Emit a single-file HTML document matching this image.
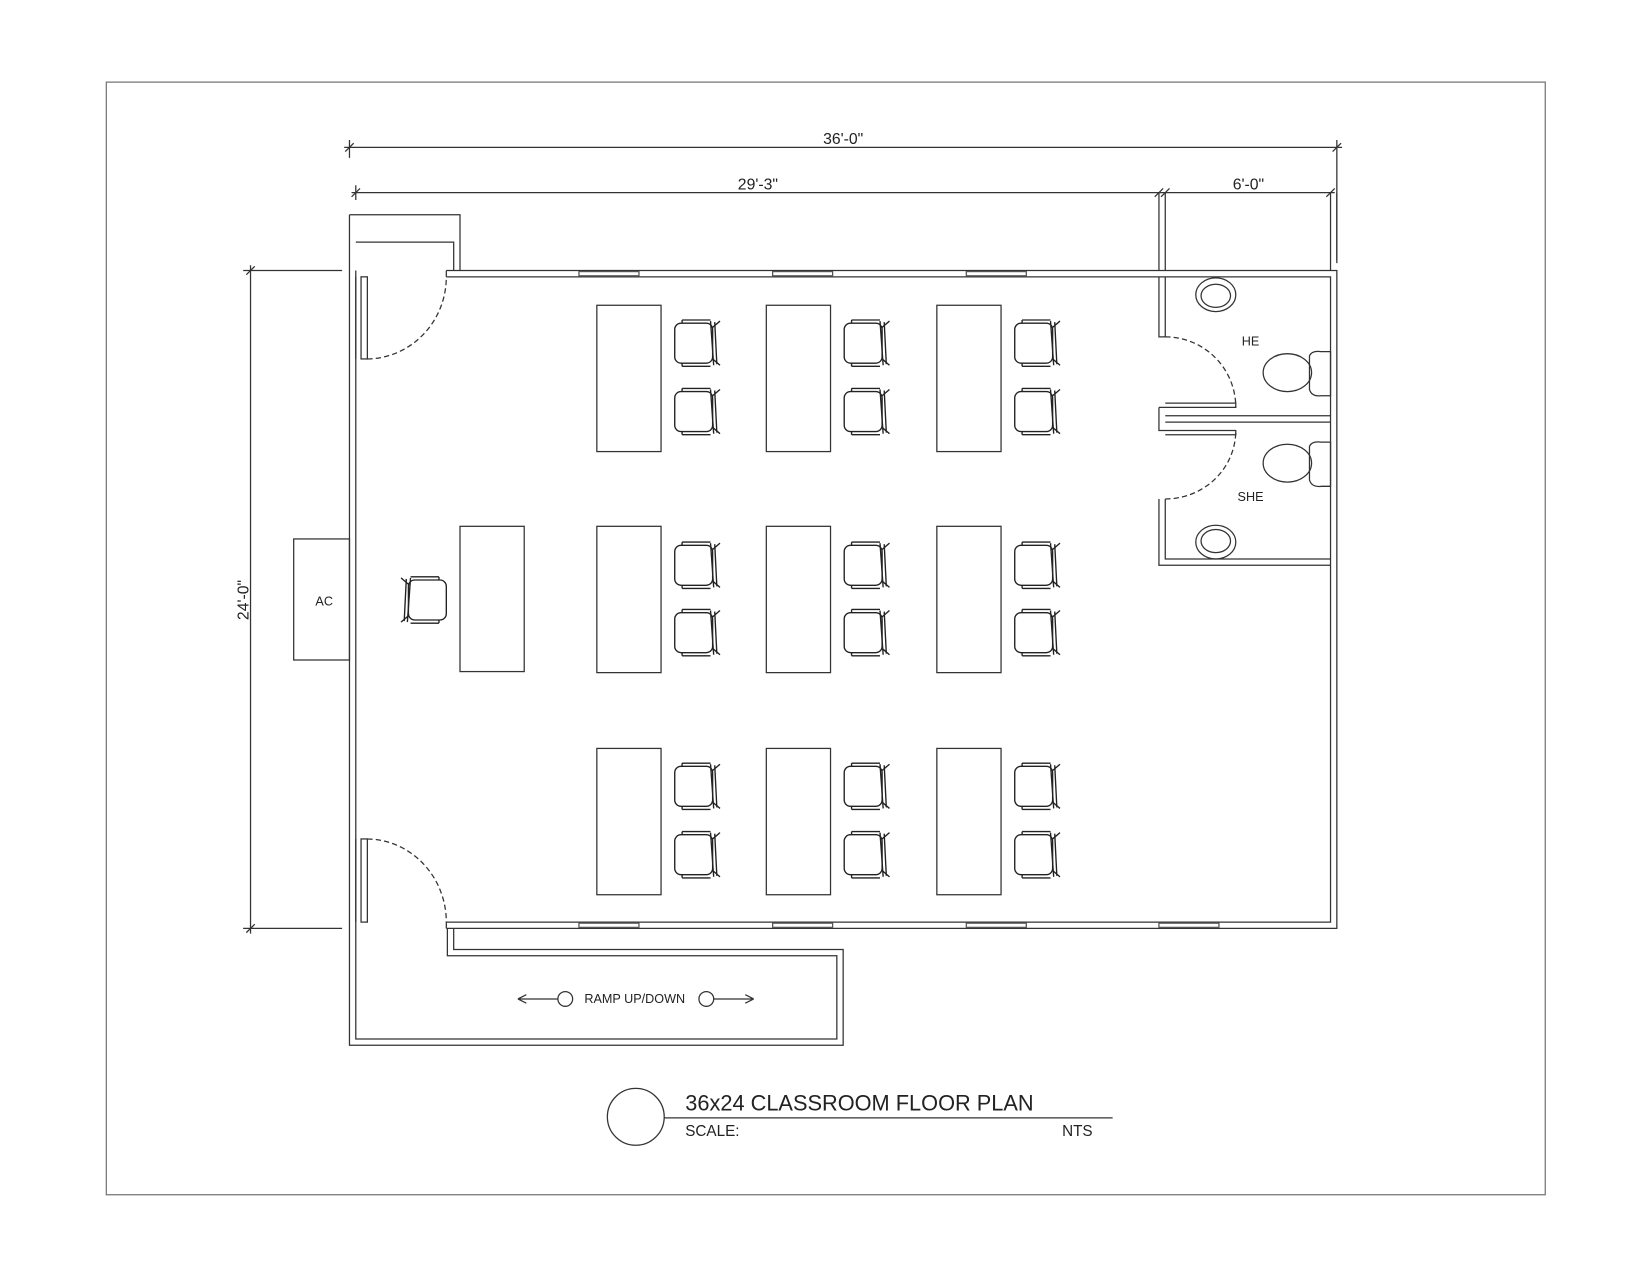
<!DOCTYPE html>
<html><head><meta charset="utf-8"><style>html,body{margin:0;padding:0;background:#fff}svg{display:block}</style></head>
<body>
<svg width="1650" height="1275" viewBox="0 0 1567.5 1211.25" preserveAspectRatio="none" xmlns="http://www.w3.org/2000/svg" font-family="Liberation Sans, sans-serif">
<defs>
<g id="ch" fill="none" stroke="#222" stroke-width="1.3">
<rect x="-19" y="-19" width="36" height="38" rx="6" fill="#fff"/>
<path d="M-12,-22 H15 M-12,22 H15 M-12,-19 V-22 M-12,19 V22"/>
<path d="M15,-21 L18,21 M19,-20 L21,20"/>
<path d="M17,-15 L24,-21 M17,15 L24,21"/>
</g>
<g id="chl" transform="scale(-1,1)"><use href="#ch"/></g>
</defs>
<g fill="none" stroke="#333" stroke-width="1.2">
<rect x="101" y="78" width="1367" height="1057" stroke="#777"/>
<path d="M424,257 H1270 V882 H424"/>
<path d="M424,263 H1264 V876 H424 V882"/>
<path d="M332,204 V993 H801 V902 H431 V882"/>
<path d="M338,257 V987 H795 V908 H425 V882"/>
<path d="M332,204 H437 V257 M338,230 H431 V257 M338,263 V341 M338,797 V876"/>
<path d="M424,257 V263"/>
<g stroke="#555">
<rect x="550" y="258" width="57" height="4"/><rect x="734" y="258" width="57" height="4"/><rect x="918" y="258" width="57" height="4"/>
<rect x="550" y="877" width="57" height="4"/><rect x="734" y="877" width="57" height="4"/><rect x="918" y="877" width="57" height="4"/><rect x="1101" y="877" width="57" height="4"/>
</g>
<rect x="343" y="263" width="6" height="78"/>
<path d="M349,341 A76,78 0 0 0 424,263" stroke-dasharray="5,3"/>
<rect x="343" y="797" width="6" height="79"/>
<path d="M349,797 A76,79 0 0 1 424,876" stroke-dasharray="5,3"/>
<path d="M1101,183 V257 M1107,183 V257 M1264,183 V257 M1270,183 V247"/>
<path d="M1101,263 V320 H1107 V263 M1101,474 V537 H1264 M1107,474 V531 H1264"/>
<path d="M1107,395 H1264 M1107,401 H1264 M1101,387 V409 H1107 M1101,387 H1107 M1107,383 H1174 V387 H1107 M1107,409 H1174 V413 H1107"/>
<path d="M1107,320 A67,67 0 0 1 1174,387" stroke-dasharray="5,3"/>
<path d="M1107,474 A67,65 0 0 0 1174,409" stroke-dasharray="5,3"/>
<ellipse cx="1155" cy="280" rx="19" ry="16"/><ellipse cx="1155" cy="281" rx="14" ry="11"/>
<ellipse cx="1155" cy="515" rx="19" ry="16"/><ellipse cx="1155" cy="514" rx="14" ry="11"/>
<ellipse cx="1223" cy="354" rx="23" ry="18"/><path d="M1244,338 Q1246,333 1255,334 H1264 V376 H1255 Q1246,377 1244,370 Z"/>
<ellipse cx="1223" cy="440" rx="23" ry="18"/><path d="M1244,424 Q1246,419 1255,420 H1264 V462 H1255 Q1246,463 1244,456 Z"/>
<rect x="279" y="512" width="53" height="115"/>
<rect x="437" y="500" width="61" height="138"/>
<g>
<rect x="567" y="290" width="61" height="139"/><rect x="728" y="290" width="61" height="139"/><rect x="890" y="290" width="61" height="139"/>
<rect x="567" y="500" width="61" height="139"/><rect x="728" y="500" width="61" height="139"/><rect x="890" y="500" width="61" height="139"/>
<rect x="567" y="711" width="61" height="139"/><rect x="728" y="711" width="61" height="139"/><rect x="890" y="711" width="61" height="139"/>
</g>
<path d="M327,140 H1275 M332,133 V150 M1270,133 V250 M334,183 H1268 M338,176 V190"/>
<path d="M238,252 V887 M231,257 H325 M231,882 H325"/>
<path d="M328,144 L336,136 M1266,144 L1274,136 M334,187 L342,179 M1097,187 L1105,179 M1103,187 L1111,179 M1260,187 L1268,179 M234,261 L242,253 M234,886 L242,878"/>
<path d="M492,949 H530 M492,949 L500,945 M492,949 L500,953"/>
<circle cx="537" cy="949" r="7"/>
<circle cx="671" cy="949" r="7"/>
<path d="M678,949 H716 M716,949 L708,945 M716,949 L708,953"/>
<circle cx="604" cy="1061" r="27"/>
<path d="M631,1062 H1057"/>
</g>
<g>
<use href="#ch" x="660" y="326"/><use href="#ch" x="660" y="391"/>
<use href="#ch" x="821" y="326"/><use href="#ch" x="821" y="391"/>
<use href="#ch" x="983" y="326"/><use href="#ch" x="983" y="391"/>
<use href="#ch" x="660" y="537"/><use href="#ch" x="660" y="601"/>
<use href="#ch" x="821" y="537"/><use href="#ch" x="821" y="601"/>
<use href="#ch" x="983" y="537"/><use href="#ch" x="983" y="601"/>
<use href="#ch" x="660" y="747"/><use href="#ch" x="660" y="812"/>
<use href="#ch" x="821" y="747"/><use href="#ch" x="821" y="812"/>
<use href="#ch" x="983" y="747"/><use href="#ch" x="983" y="812"/>
<use href="#chl" x="405" y="570"/>
</g>
<g fill="#222" font-size="15" text-anchor="middle">
<text x="801" y="137">36'-0"</text>
<text x="720" y="180">29'-3"</text>
<text x="1186" y="180">6'-0"</text>
<text transform="translate(236,570) rotate(-90)">24'-0"</text>
<text x="308" y="575" font-size="12">AC</text>
<text x="1188" y="328" font-size="12">HE</text>
<text x="1188" y="476" font-size="12">SHE</text>
<text x="603" y="953" font-size="12">RAMP UP/DOWN</text>
<text x="651" y="1055" font-size="20.7" text-anchor="start">36x24 CLASSROOM FLOOR PLAN</text>
<text x="651" y="1079" font-size="14.5" text-anchor="start">SCALE:</text>
<text x="1009" y="1079" font-size="14.5" text-anchor="start">NTS</text>
</g>
</svg>
</body></html>
